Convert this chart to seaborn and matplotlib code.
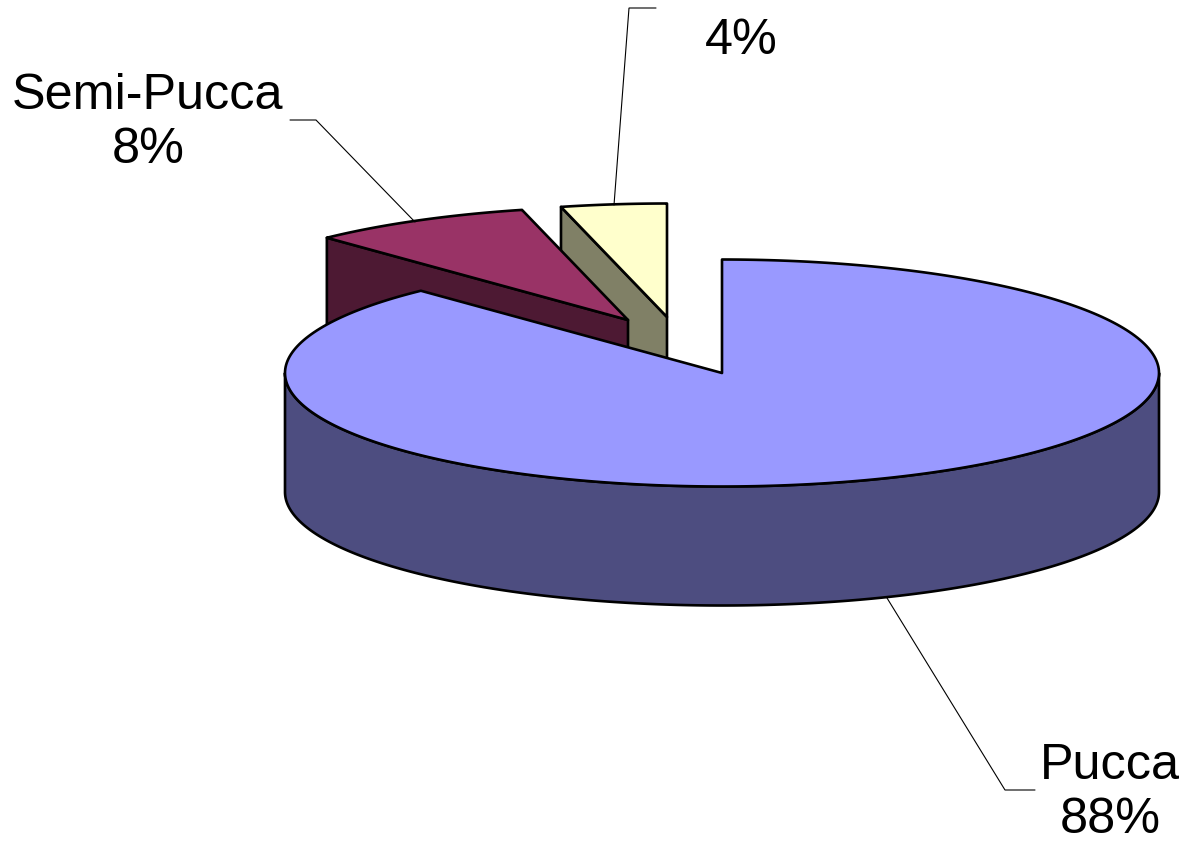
import numpy as np
import matplotlib
matplotlib.use("Agg")
import matplotlib.pyplot as plt
import seaborn as sns

categories = ["Pucca", "Semi-Pucca", ""]
shares = [87.9, 8.2, 3.9]
top_colors = ["#9999FF", "#993366", "#FFFFCC"]
side_colors = ["#4D4D80", "#4D1933", "#808066"]

CX, CY, RX, RY, DEPTH = 722, 373, 437, 113.5, 119
explode = [(0, 0), (-94, -53), (-55, -56)]
label_pos = [(1110, 793), (148, 123), (741, 41)]
leaders = [[(887, 598), (1005, 790), (1035, 790)],
           [(415, 222), (316, 120), (290, 120)],
           [(614, 205), (629, 8), (656, 8)]]

sns.set_theme(style="white")
plt.rcParams["font.family"] = ["Liberation Sans", "DejaVu Sans"]
fig = plt.figure(figsize=(11.87, 8.43), dpi=100, facecolor="white")
ax = fig.add_axes([0, 0, 1, 1])
ax.set_xlim(0, 1187)
ax.set_ylim(843, 0)
ax.axis("off")

EDGE = dict(edgecolor="black", linewidth=1.9, joinstyle="round")
edges = np.cumsum([0] + shares) / sum(shares) * 2 * np.pi


def pt(theta, ox=0, oy=0):
    theta = np.asarray(theta)
    return CX + ox + RX * np.sin(theta), CY + oy - RY * np.cos(theta)


def wedge(i):
    ox, oy = explode[i]
    th = np.linspace(edges[i], edges[i + 1], 300)
    x, y = pt(th, ox, oy)
    return np.r_[CX + ox, x], np.r_[CY + oy, y]


def cut_face(i, theta):
    ox, oy = explode[i]
    x, y = pt(theta, ox, oy)
    xs = [CX + ox, x, x, CX + ox]
    ys = [CY + oy, y, y + DEPTH, CY + oy + DEPTH]
    return xs, ys


# rear slices first, the large slice last
for i in (2, 1):
    ax.fill(*cut_face(i, edges[i]), facecolor=side_colors[i], **EDGE)
    ax.fill(*wedge(i), facecolor=top_colors[i], **EDGE)

# outer wall of the large slice (front half of the ellipse)
th = np.linspace(np.pi / 2, 3 * np.pi / 2, 400)
x, y = pt(th)
ax.fill(np.r_[x, x[::-1]], np.r_[y, y[::-1] + DEPTH], facecolor=side_colors[0], **EDGE)
ax.fill(*wedge(0), facecolor=top_colors[0], **EDGE)

for pts in leaders:
    xs, ys = zip(*pts)
    ax.plot(xs, ys, color="black", lw=0.8, solid_joinstyle="miter")

for i, (lx, ly) in enumerate(label_pos):
    pct = f"{round(shares[i])}%"
    text = f"{categories[i]}\n{pct}" if categories[i] else pct
    ax.text(lx, ly, text, ha="center", va="center", fontsize=36.3, color="black",
            linespacing=1.24, clip_on=False)

fig.savefig("out.png", dpi=100, facecolor="white")
